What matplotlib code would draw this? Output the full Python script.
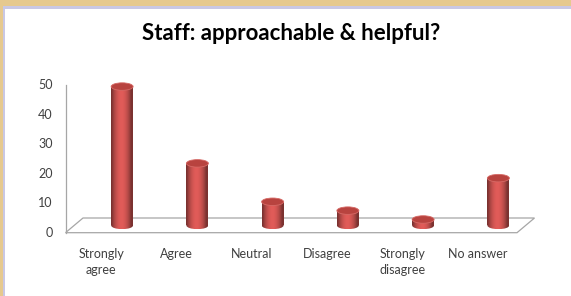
import matplotlib
matplotlib.use("Agg")
import matplotlib.pyplot as plt
import numpy as np
from matplotlib.patches import Rectangle, Ellipse, Polygon
from matplotlib.lines import Line2D

categories = ["Strongly\nagree", "Agree", "Neutral", "Disagree", "Strongly\ndisagree", "No answer"]
values = [47, 21, 8, 5, 2, 16]
yticks = [0, 10, 20, 30, 40, 50]
title = "Staff: approachable & helpful?"

W, H = 571, 296
fig = plt.figure(figsize=(W / 100, H / 100), dpi=100)
fig.patch.set_facecolor("white")

# frame decoration (wood band + lavender border)
fig.patches.append(Rectangle((0, 1 - 6 / H), 1, 6 / H, transform=fig.transFigure, facecolor="#e6c98e", edgecolor="none"))
fig.patches.append(Rectangle((0, 1 - 8.5 / H), 1, 2.5 / H, transform=fig.transFigure, facecolor="#c9c8e4", edgecolor="none"))
fig.patches.append(Rectangle((0, 0), 2.5 / W, 1, transform=fig.transFigure, facecolor="#e6c98e", edgecolor="none"))
fig.patches.append(Rectangle((2.5 / W, 0), 2 / W, 1 - 6 / H, transform=fig.transFigure, facecolor="#c9c8e4", edgecolor="none"))

x0, x1 = 65.5, 517.0
y0, y50 = 232.7, 85.0
ax = fig.add_axes([x0 / W, 1 - y0 / H, (x1 - x0) / W, (y0 - y50) / H])
ax.set_xlim(-0.5, len(categories) - 0.5)
ax.set_ylim(0, 50)
ax.axis("off")

cat_px = (x1 - x0) / len(categories)
val_px = (y0 - y50) / 50.0

# depth offsets (pixels -> data units)
ddx = 17.5 / cat_px
ddy = 14.7 / val_px
floor_col = "#a6a6a6"
floor = Polygon([(-0.5, 0), (len(categories) - 0.5, 0),
                 (len(categories) - 0.5 + ddx, ddy), (-0.5 + ddx, ddy)],
                closed=True, facecolor="none", edgecolor=floor_col, lw=0.9, clip_on=False, zorder=1)
ax.add_patch(floor)
ax.add_line(Line2D([-0.5, -0.5], [0, 50], color=floor_col, lw=0.9, clip_on=False, zorder=1))

for t in yticks:
    ax.text(-0.5 - 13 / cat_px, t, str(t), ha="right", va="center", fontsize=9,
            family="Lato", color="#404040")

ax.set_title(title, fontsize=16, fontweight="bold", family="Lato", color="black",
             pad=0, y=1 + (85 - 34) / (y0 - y50), va="center")

# cylinders
bx_off = 19 / cat_px
base = 7.3 / val_px
bw = 22 / cat_px
eh = 7.5 / val_px
grad = np.linspace(0, 1, 256)
shade = 0.55 + 0.45 * np.sin(np.pi * np.clip(grad * 1.15 - 0.05, 0, 1)) ** 0.8
base_rgb = np.array([0xd0, 0x55, 0x52]) / 255.0
img = np.clip(shade[None, :, None] * base_rgb[None, None, :] * 1.08, 0, 1)

for i, v in enumerate(values):
    cx = i + bx_off
    top = base + v
    rect = Rectangle((cx - bw / 2, base), bw, v, facecolor="none", edgecolor="none")
    ell_b = Ellipse((cx, base), bw, eh, facecolor="none", edgecolor="none")
    ax.add_patch(rect)
    ax.add_patch(ell_b)
    for clip in (rect, ell_b):
        im = ax.imshow(img, extent=(cx - bw / 2, cx + bw / 2, base - eh / 2, top), aspect="auto",
                       zorder=3, clip_on=True)
        im.set_clip_path(clip)
    ax.add_patch(Ellipse((cx, top), bw, eh, facecolor="#b8433f", edgecolor="#d66a66", lw=0.6,
                         zorder=4, clip_on=False))

ax.set_xlim(-0.5, len(categories) - 0.5)
ax.set_ylim(0, 50)

for i, c in enumerate(categories):
    ax.text(i - 2 / cat_px, -(248 - y0) / val_px, c, ha="center", va="top", fontsize=9,
            family="Lato", color="#404040", linespacing=1.45)

fig.savefig("out.png", dpi=100, facecolor=fig.get_facecolor())
